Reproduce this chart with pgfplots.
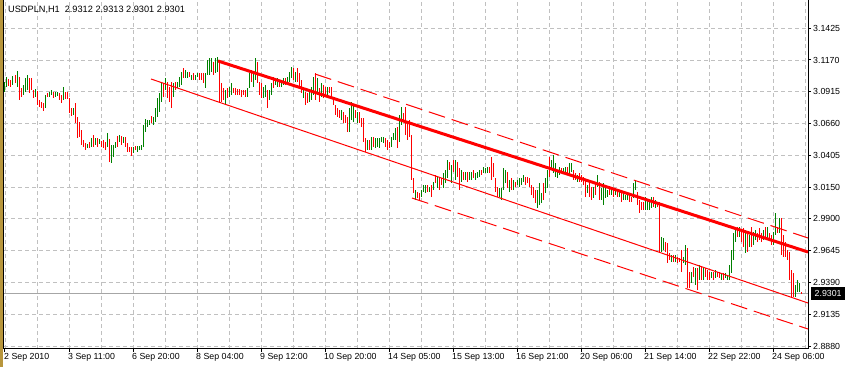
\documentclass[border=0pt]{standalone}
\usepackage{fontspec}
\setmainfont{Liberation Sans}
\usepackage{pgfplots}
\usepackage{pgfplotstable}
\pgfplotsset{compat=1.18}
\definecolor{barup}{RGB}{0,128,0}
\definecolor{bardn}{RGB}{255,0,0}
\definecolor{gridc}{RGB}{192,192,192}
\definecolor{winframe}{RGB}{184,150,60}

\pgfplotstableread{
i lo hi
0 3.0914 3.0994
1 3.0954 3.1034
4 3.0970 3.1042
6 3.0954 3.1082
9 3.0890 3.0970
10 3.0914 3.1026
11 3.0930 3.1050
15 3.0874 3.0938
20 3.0786 3.0890
22 3.0874 3.0914
23 3.0890 3.0930
25 3.0874 3.0914
26 3.0882 3.0914
29 3.0850 3.0954
34 3.0730 3.0786
41 3.0466 3.0498
43 3.0474 3.0546
45 3.0490 3.0546
47 3.0498 3.0538
51 3.0474 3.0586
53 3.0346 3.0490
54 3.0394 3.0490
55 3.0466 3.0514
57 3.0514 3.0570
59 3.0506 3.0554
64 3.0426 3.0474
66 3.0434 3.0482
67 3.0450 3.0482
68 3.0450 3.0490
69 3.0474 3.0650
70 3.0594 3.0698
71 3.0634 3.0690
72 3.0650 3.0690
74 3.0650 3.0714
75 3.0674 3.0786
76 3.0714 3.0866
77 3.0754 3.0906
78 3.0834 3.0986
80 3.0930 3.1026
84 3.0874 3.0986
86 3.0946 3.0994
87 3.0954 3.1034
88 3.0970 3.1074
90 3.1026 3.1090
91 3.1026 3.1074
93 3.1010 3.1050
95 3.1010 3.1050
96 3.1034 3.1066
100 3.0946 3.1066
101 3.1050 3.1170
102 3.1050 3.1186
103 3.1074 3.1186
105 3.1066 3.1186
106 3.1074 3.1194
110 3.0810 3.0930
112 3.0874 3.0954
113 3.0890 3.0986
121 3.0874 3.0946
122 3.0946 3.1066
124 3.0954 3.1066
125 3.1010 3.1186
129 3.0866 3.0954
130 3.0874 3.0970
132 3.0850 3.0930
133 3.0890 3.0986
135 3.0970 3.1026
136 3.0954 3.1026
138 3.0954 3.1010
139 3.0970 3.1026
141 3.0970 3.1034
142 3.0994 3.1074
143 3.1026 3.1114
145 3.0994 3.1074
149 3.0866 3.0954
152 3.0834 3.0930
153 3.0850 3.0954
154 3.0890 3.1034
156 3.0890 3.1026
158 3.0874 3.0986
161 3.0890 3.0954
168 3.0690 3.0770
172 3.0594 3.0786
173 3.0690 3.0834
174 3.0674 3.0810
176 3.0666 3.0754
181 3.0450 3.0530
183 3.0450 3.0554
185 3.0466 3.0546
186 3.0474 3.0546
187 3.0466 3.0546
188 3.0514 3.0554
189 3.0506 3.0554
193 3.0474 3.0554
194 3.0530 3.0586
195 3.0530 3.0626
197 3.0514 3.0730
198 3.0650 3.0794
205 3.0050 3.0130
208 3.0074 3.0130
209 3.0114 3.0170
210 3.0106 3.0170
212 3.0114 3.0154
214 3.0130 3.0194
216 3.0146 3.0234
219 3.0146 3.0266
220 3.0186 3.0290
221 3.0226 3.0370
223 3.0186 3.0330
225 3.0210 3.0370
228 3.0194 3.0290
230 3.0210 3.0274
232 3.0210 3.0274
233 3.0210 3.0274
235 3.0210 3.0266
236 3.0226 3.0274
237 3.0234 3.0290
239 3.0266 3.0314
240 3.0266 3.0306
241 3.0266 3.0314
247 3.0074 3.0146
248 3.0050 3.0146
249 3.0130 3.0306
250 3.0186 3.0290
252 3.0114 3.0210
254 3.0130 3.0210
256 3.0170 3.0210
257 3.0154 3.0226
258 3.0170 3.0226
259 3.0194 3.0250
266 2.9986 3.0130
267 3.0010 3.0186
268 3.0026 3.0106
270 3.0106 3.0226
271 3.0146 3.0290
273 3.0306 3.0370
274 3.0266 3.0410
275 3.0234 3.0346
276 3.0226 3.0290
277 3.0250 3.0314
279 3.0266 3.0306
280 3.0266 3.0314
282 3.0250 3.0346
283 3.0274 3.0346
286 3.0194 3.0250
291 3.0106 3.0170
294 3.0066 3.0154
296 3.0154 3.0250
298 3.0050 3.0146
299 3.0010 3.0186
300 3.0066 3.0146
301 3.0074 3.0130
303 3.0090 3.0154
305 3.0090 3.0146
307 3.0074 3.0114
309 3.0050 3.0114
310 3.0050 3.0090
311 3.0050 3.0090
314 3.0066 3.0186
315 3.0130 3.0210
320 2.9970 3.0074
321 2.9970 3.0050
322 2.9970 3.0034
323 2.9986 3.0074
325 2.9986 3.0050
328 2.9634 2.9754
329 2.9650 2.9746
333 2.9554 2.9610
335 2.9554 2.9610
339 2.9546 2.9594
340 2.9530 2.9690
343 2.9386 2.9474
345 2.9370 2.9506
347 2.9410 2.9530
349 2.9410 2.9514
353 2.9426 2.9474
355 2.9426 2.9490
358 2.9410 2.9466
360 2.9426 2.9466
361 2.9410 2.9450
362 2.9410 2.9530
363 2.9466 2.9650
364 2.9570 2.9786
365 2.9714 2.9834
367 2.9754 2.9834
370 2.9626 2.9810
372 2.9674 2.9770
374 2.9690 2.9794
375 2.9730 2.9810
379 2.9730 2.9810
381 2.9746 2.9834
384 2.9690 2.9794
385 2.9770 2.9946
387 2.9786 2.9906
395 2.9274 2.9370
396 2.9314 2.9410
397 2.9314 2.9386
}\updata

\pgfplotstableread{
i lo hi
2 3.0962 3.1018
3 3.0954 3.1010
5 3.0986 3.1050
7 3.0850 3.1034
8 3.0874 3.0946
12 3.0906 3.1026
13 3.0930 3.1026
14 3.0866 3.0930
16 3.0810 3.0922
17 3.0794 3.0850
18 3.0786 3.0834
19 3.0762 3.0826
21 3.0874 3.0906
24 3.0866 3.0914
27 3.0850 3.0906
28 3.0826 3.0890
30 3.0858 3.0914
31 3.0858 3.0914
32 3.0746 3.0866
33 3.0722 3.0786
35 3.0666 3.0826
36 3.0546 3.0714
37 3.0554 3.0674
38 3.0490 3.0610
39 3.0474 3.0530
40 3.0450 3.0506
42 3.0466 3.0514
44 3.0474 3.0570
46 3.0474 3.0546
48 3.0474 3.0522
49 3.0466 3.0530
50 3.0450 3.0514
52 3.0354 3.0538
56 3.0474 3.0562
58 3.0490 3.0562
60 3.0474 3.0554
61 3.0434 3.0506
62 3.0434 3.0474
63 3.0402 3.0474
65 3.0450 3.0482
73 3.0666 3.0722
79 3.0874 3.0986
81 3.0866 3.0994
82 3.0834 3.0954
83 3.0786 3.0994
85 3.0930 3.0994
89 3.1026 3.1106
92 3.1034 3.1074
94 3.1010 3.1066
97 3.1010 3.1066
98 3.1010 3.1066
99 3.0986 3.1066
104 3.1050 3.1154
107 3.0834 3.1154
108 3.0834 3.0986
109 3.0850 3.0946
111 3.0866 3.0946
114 3.0906 3.0946
115 3.0890 3.0946
116 3.0890 3.0938
117 3.0890 3.0938
118 3.0874 3.0930
119 3.0890 3.0930
120 3.0874 3.0930
123 3.0994 3.1090
126 3.0986 3.1154
127 3.0890 3.0994
128 3.0866 3.0986
131 3.0786 3.0930
134 3.0946 3.1034
137 3.0954 3.1010
140 3.0970 3.1026
144 3.1010 3.1106
146 3.0994 3.1106
147 3.0954 3.1066
148 3.0906 3.1010
150 3.0810 3.0914
151 3.0826 3.0906
155 3.0850 3.1066
157 3.0834 3.0946
159 3.0866 3.0970
160 3.0874 3.0954
162 3.0906 3.0954
163 3.0866 3.0954
164 3.0810 3.0874
165 3.0730 3.0810
166 3.0714 3.0786
167 3.0706 3.0770
169 3.0666 3.0754
170 3.0666 3.0730
171 3.0594 3.0714
175 3.0706 3.0770
177 3.0666 3.0754
178 3.0634 3.0706
179 3.0514 3.0706
180 3.0434 3.0546
182 3.0450 3.0530
184 3.0474 3.0554
190 3.0474 3.0546
191 3.0450 3.0530
192 3.0466 3.0514
196 3.0466 3.0634
199 3.0690 3.0746
200 3.0570 3.0794
201 3.0530 3.0666
202 3.0554 3.0690
203 3.0210 3.0570
204 3.0106 3.0226
206 3.0066 3.0114
207 3.0050 3.0106
211 3.0114 3.0170
213 3.0074 3.0170
215 3.0186 3.0250
217 3.0130 3.0226
218 3.0170 3.0226
222 3.0290 3.0354
224 3.0274 3.0370
226 3.0234 3.0354
227 3.0130 3.0306
229 3.0210 3.0274
231 3.0194 3.0274
234 3.0226 3.0290
238 3.0250 3.0290
242 3.0266 3.0314
243 3.0210 3.0394
244 3.0234 3.0346
245 3.0114 3.0226
246 3.0074 3.0154
251 3.0146 3.0274
253 3.0130 3.0226
255 3.0154 3.0194
260 3.0170 3.0234
261 3.0186 3.0234
262 3.0154 3.0226
263 3.0090 3.0170
264 3.0066 3.0154
265 3.0026 3.0130
269 3.0050 3.0186
272 3.0234 3.0394
278 3.0266 3.0306
281 3.0266 3.0314
284 3.0210 3.0290
285 3.0210 3.0266
287 3.0194 3.0266
288 3.0194 3.0250
289 3.0170 3.0234
290 3.0074 3.0210
292 3.0074 3.0186
293 3.0050 3.0154
295 3.0090 3.0186
297 3.0050 3.0194
302 3.0090 3.0146
304 3.0074 3.0130
306 3.0074 3.0130
308 3.0034 3.0106
312 3.0034 3.0090
313 3.0034 3.0074
316 3.0010 3.0114
317 2.9946 3.0050
318 2.9970 3.0034
319 2.9970 3.0034
324 2.9994 3.0074
326 2.9994 3.0034
327 2.9634 3.0034
330 2.9634 2.9714
331 2.9546 2.9706
332 2.9570 2.9626
334 2.9554 2.9610
336 2.9546 2.9594
337 2.9554 2.9586
338 2.9474 2.9650
341 2.9346 2.9666
342 2.9346 2.9474
344 2.9434 2.9514
346 2.9330 2.9506
348 2.9410 2.9514
350 2.9434 2.9506
351 2.9410 2.9490
352 2.9410 2.9474
354 2.9410 2.9474
356 2.9434 2.9474
357 2.9426 2.9474
359 2.9410 2.9466
366 2.9754 2.9834
368 2.9714 2.9810
369 2.9674 2.9826
371 2.9634 2.9786
373 2.9674 2.9834
376 2.9714 2.9786
377 2.9730 2.9826
378 2.9714 2.9786
380 2.9754 2.9834
382 2.9730 2.9786
383 2.9690 2.9770
386 2.9786 2.9834
388 2.9610 2.9906
389 2.9594 2.9770
390 2.9594 2.9714
391 2.9570 2.9650
392 2.9410 2.9634
393 2.9274 2.9490
394 2.9274 2.9466
398 2.9301 2.9313
}\dndata

\begin{document}
\begin{tikzpicture}
\useasboundingbox (-4pt,-18pt) rectangle (843pt,349pt);
\fill[winframe] (-4pt,-18pt) rectangle (-0.5pt,349pt);
\begin{axis}[
  at={(0,0)}, anchor=south west,
  scale only axis, width=804pt, height=349pt,
  xmin=-0.5, xmax=401.5, ymin=2.8858, ymax=3.165,
  clip mode=individual,
  axis line style={black, line width=1pt},
  xtick={0,32,...,384},
  xticklabels={2 Sep 2010,3 Sep 11:00,6 Sep 20:00,8 Sep 04:00,9 Sep 12:00,10 Sep 20:00,14 Sep 05:00,15 Sep 13:00,16 Sep 21:00,20 Sep 06:00,21 Sep 14:00,22 Sep 22:00,24 Sep 06:00},
  minor xtick={16,48,...,400},
  ytick={2.8880,2.9135,2.9390,2.9645,2.9900,3.0150,3.0405,3.0660,3.0915,3.1170,3.1425},
  yticklabels={2.8880,2.9135,2.9390,2.9645,2.9900,3.0150,3.0405,3.0660,3.0915,3.1170,3.1425},
  xtick pos=left, ytick pos=right, yticklabel pos=right,
  tick align=outside,
  major tick length=3pt, minor tick length=0pt,
  tick style={black, line width=1pt},
  xmajorgrids, xminorgrids, ymajorgrids,
  grid style={gridc, line width=0.8pt, dash pattern=on 4pt off 3pt},
  minor grid style={gridc, line width=0.8pt, dash pattern=on 4pt off 3pt},
  ticklabel style={font=\fontsize{8.8}{10}\selectfont, text=black},
  xticklabel style={anchor=north west, inner sep=0pt, xshift=-1pt, yshift=-1pt},
  yticklabel style={anchor=west, inner sep=0pt, xshift=2pt},
]
% current price line
\addplot[gray!70, line width=0.8pt, forget plot] coordinates {(-0.5,2.9301) (401.5,2.9301)};
% bars
\addplot[draw=none, mark=none, forget plot,
  error bars/.cd, y dir=both, y explicit, error mark=none,
  error bar style={draw=barup, line width=1pt}]
  table[x=i, y expr=(\thisrow{lo}+\thisrow{hi})/2, y error expr=(\thisrow{hi}-\thisrow{lo})/2] {\updata};
\addplot[draw=none, mark=none, forget plot,
  error bars/.cd, y dir=both, y explicit, error mark=none,
  error bar style={draw=bardn, line width=1pt}]
  table[x=i, y expr=(\thisrow{lo}+\thisrow{hi})/2, y error expr=(\thisrow{hi}-\thisrow{lo})/2] {\dndata};
% channel lines
\addplot[bardn, line width=3pt] coordinates {(106.5,3.1162) (401.5,2.9634)};
\addplot[bardn, line width=1pt] coordinates {(73,3.1018) (401.5,2.9226)};
\addplot[bardn, line width=1pt, dash pattern=on 17pt off 7pt] coordinates {(155,3.1058) (401.5,2.9746)};
\addplot[bardn, line width=1pt, dash pattern=on 17pt off 7pt] coordinates {(203.5,3.0066) (401.5,2.9018)};
% title
\node[anchor=base west, inner sep=0pt, font=\fontsize{9.2}{11}\selectfont] at ([xshift=4pt, yshift=-12.7pt]rel axis cs:0,1) {USDPLN,H1\hspace{5pt}2.9312 2.9313 2.9301 2.9301};
% current price label
\node[anchor=west, fill=black, text=white, inner xsep=3.5pt, inner ysep=0pt, minimum height=13pt, font=\fontsize{8.8}{10}\selectfont] at ([xshift=3pt]axis cs:401.5,2.9301) {2.9301};
\end{axis}
\end{tikzpicture}
\end{document}
